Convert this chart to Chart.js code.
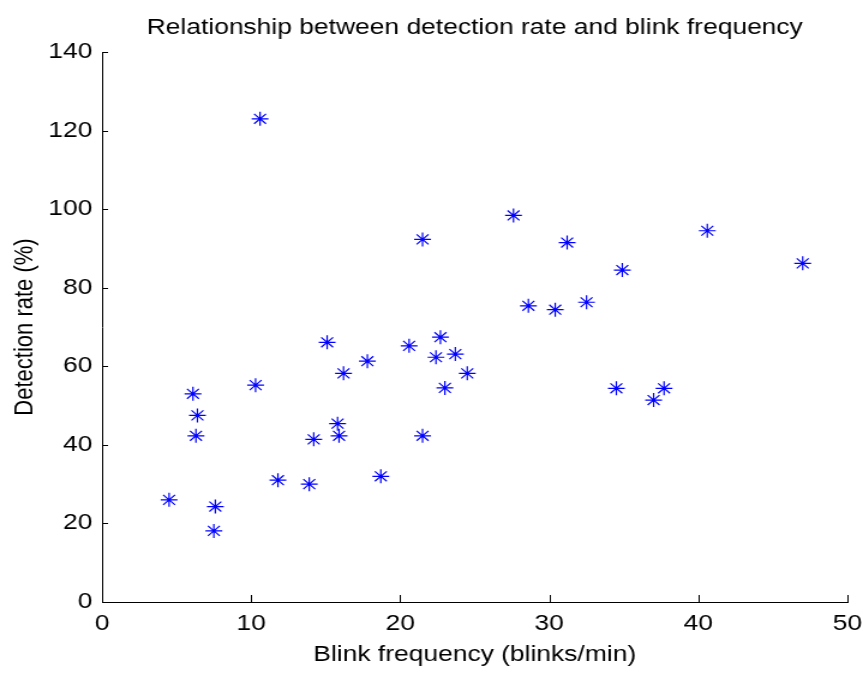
<!DOCTYPE html>
<html>
<head>
<meta charset="utf-8">
<script src="https://cdn.jsdelivr.net/npm/chart.js@4/dist/chart.umd.min.js"></script>
<style>
  html, body { margin: 0; padding: 0; background: #fff; }
  /* figure is drawn narrower and stretched sideways */
  #wrap { width: 719px; height: 674px; transform: scaleX(1.2003); transform-origin: 0 0; }
</style>
</head>
<body>
<div id="wrap"><canvas id="grafico"></canvas></div>
<script>
// Blink frequency (blinks/min) and detection rate (%) per subject
var blinkFreq = [4.5, 6.1, 6.4, 6.3, 7.6, 7.5, 10.6, 10.3, 11.8, 13.9, 14.2, 15.1,
                 15.8, 15.9, 16.2, 17.8, 18.7, 20.6, 21.5, 21.5, 22.7, 22.4, 23.7, 23.0,
                 24.5, 27.6, 28.6, 30.4, 31.2, 32.5, 34.5, 34.9, 37.0, 37.7, 40.6, 47.0];
var detectionRate = [26, 53, 47.5, 42.3, 24.3, 18.1, 123, 55.2, 31, 30, 41.4, 66.1,
                     45.4, 42.3, 58.2, 61.3, 32, 65.2, 42.3, 92.3, 67.4, 62.3, 63.1, 54.5,
                     58.2, 98.4, 75.4, 74.4, 91.5, 76.3, 54.4, 84.5, 51.4, 54.4, 94.5, 86.2];
var xTicks = [0, 10, 20, 30, 40, 50];
var yTicks = [0, 20, 40, 60, 80, 100, 120, 140];

var puntos = blinkFreq.map(function(x, i) {
    return { x: x, y: detectionRate[i] };
});

var fuente = "'Liberation Sans', Arial, sans-serif";

// ticks pointing into the plot, like the MATLAB axes
var ticksInternos = {
    id: 'ticksInternos',
    afterDraw: function(chart) {
        var ctx = chart.ctx;
        var area = chart.chartArea;
        var sx = chart.scales.x, sy = chart.scales.y;
        ctx.save();
        ctx.strokeStyle = '#000';
        ctx.lineWidth = 1;
        ctx.beginPath();
        xTicks.forEach(function(v) {
            var px = Math.round(sx.getPixelForValue(v)) + 0.5;
            ctx.moveTo(px, area.bottom);
            ctx.lineTo(px, area.bottom - 7);
        });
        yTicks.forEach(function(v) {
            var py = Math.round(sy.getPixelForValue(v)) + 0.5;
            ctx.moveTo(area.left, py);
            ctx.lineTo(area.left + 5, py);
        });
        ctx.stroke();
        ctx.restore();
    }
};

var ctx = document.getElementById('grafico').getContext('2d');
var grafico = new Chart(ctx, {
    type: 'scatter',
    data: {
        datasets: [{
            data: puntos,
            pointStyle: 'star',
            pointRadius: 7,
            pointHoverRadius: 7,
            borderColor: '#0000ff',
            backgroundColor: '#0000ff',
            borderWidth: 1.2
        }]
    },
    options: {
        responsive: true,
        maintainAspectRatio: false,
        animation: false,
        events: [],
        layout: { padding: { left: 0, right: 13, top: 0, bottom: 0 } },
        plugins: {
            legend: { display: false },
            tooltip: { enabled: false },
            title: {
                display: true,
                fullSize: false,
                text: 'Relationship between detection rate and blink frequency',
                color: '#000',
                font: { family: fuente, size: 22, weight: 'normal' },
                padding: { top: 15, bottom: 10.6 }
            }
        },
        scales: {
            x: {
                type: 'linear',
                min: 0,
                max: 50,
                afterBuildTicks: function(scale) {
                    scale.ticks = xTicks.map(function(v) { return { value: v }; });
                },
                afterFit: function(scale) {
                    scale.height = 72;
                    scale.paddingLeft = 0;
                    scale.paddingRight = 0;
                },
                grid: { display: false, drawTicks: false },
                border: { display: true, color: '#000', width: 1 },
                ticks: {
                    color: '#000',
                    padding: 9,
                    maxRotation: 0,
                    font: { family: fuente, size: 22 }
                },
                title: {
                    display: true,
                    text: 'Blink frequency (blinks/min)',
                    color: '#000',
                    font: { family: fuente, size: 22 },
                    padding: { top: 6, bottom: 6 }
                }
            },
            y: {
                type: 'linear',
                min: 0,
                max: 140,
                afterBuildTicks: function(scale) {
                    scale.ticks = yTicks.map(function(v) { return { value: v }; });
                },
                afterFit: function(scale) {
                    scale.width = 85;
                    scale.paddingTop = 0;
                    scale.paddingBottom = 0;
                },
                grid: { display: false, drawTicks: false },
                border: { display: true, color: '#000', width: 1 },
                ticks: {
                    color: '#000',
                    padding: 8,
                    font: { family: fuente, size: 22 }
                },
                title: {
                    display: true,
                    text: 'Detection rate (%)',
                    color: '#000',
                    font: { family: fuente, size: 22 },
                    padding: { top: 8, bottom: 8 }
                }
            }
        }
    },
    plugins: [ticksInternos]
});
</script>
</body>
</html>
